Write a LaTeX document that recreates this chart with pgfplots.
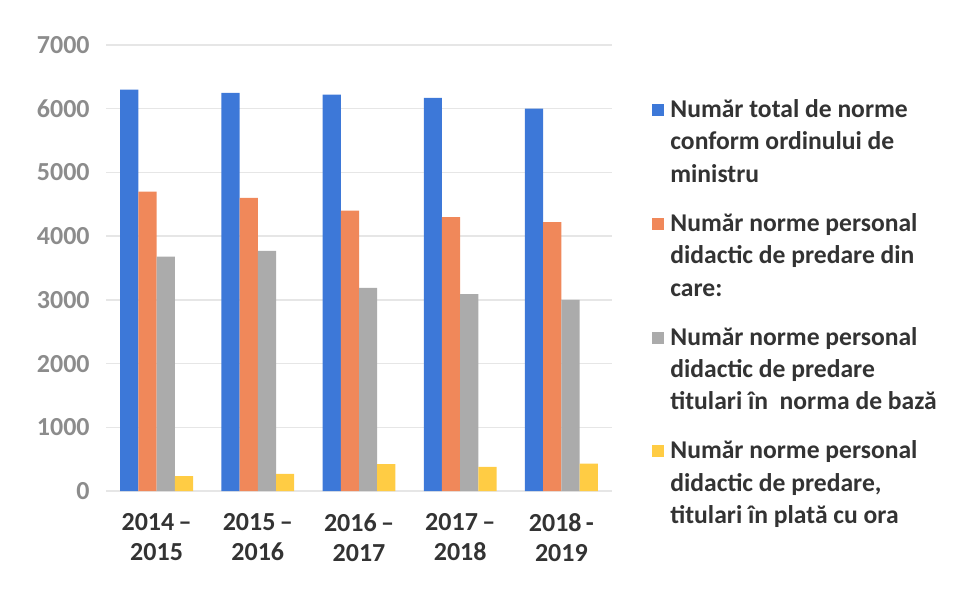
\documentclass[border=0pt]{standalone}
\usepackage{pgfplots}
\pgfplotsset{compat=1.18}
\usepackage{fontspec}
\setmainfont{Carlito}
\definecolor{cblue}{HTML}{3D78D8}
\definecolor{corange}{HTML}{F0885A}
\definecolor{cgray}{HTML}{ABABAB}
\definecolor{cyellow}{HTML}{FFCC44}
\definecolor{gridgray}{HTML}{E6E6E6}
\definecolor{ticktxt}{HTML}{8C8C8C}
\definecolor{txtdark}{HTML}{333333}
\begin{document}
\begin{tikzpicture}
\path[use as bounding box] (0,0) rectangle (478pt,294.5pt);
\begin{axis}[
  at={(53pt,49pt)}, anchor=south west,
  scale only axis, width=253pt, height=223pt,
  ybar=0pt, bar width=0.18,
  xmin=-0.5, xmax=4.5, ymin=0, ymax=7000,
  xtick={0,1,2,3,4},
  xticklabels={{2014\,–\\2015},{2015\,–\\2016},{2016\,–\\2017},{2017\,–\\2018},{2018\,-\\2019}},
  ytick={0,1000,2000,3000,4000,5000,6000,7000},
  major tick length=0pt,
  axis line style={draw=none},
  ymajorgrids, grid style={color=gridgray, line width=0.7pt},
  /pgf/number format/assume math mode=true,
  /pgf/number format/set thousands separator={},
  yticklabel style={font=\fontsize{13}{15}\selectfont\bfseries, text=ticktxt, anchor=east, inner sep=0pt, xshift=-8pt},
  xticklabel style={font=\fontsize{13}{15}\selectfont\bfseries, text=txtdark, align=center, anchor=north, inner sep=0pt, yshift=-11pt},
  legend cell align=left,
  legend image code/.code={\draw[#1,draw=none] (0pt,13.2pt) rectangle (6pt,19.2pt);},
  legend style={at={(1.079,0.883)}, anchor=north west, draw=none, fill=none,
    font=\fontsize{12.8}{16.2}\selectfont\bfseries, text=txtdark,
    row sep=12pt, inner sep=0pt, align=left, nodes={inner sep=1pt}, column sep=2pt},
]
\addplot[fill=cblue, draw=none] coordinates {(0,6300) (1,6250) (2,6220) (3,6170) (4,6000)};
\addlegendentry{Număr total de norme\\conform ordinului de\\ministru}
\addplot[fill=corange, draw=none] coordinates {(0,4700) (1,4600) (2,4400) (3,4300) (4,4220)};
\addlegendentry{Număr norme personal\\didactic de predare din\\care:}
\addplot[fill=cgray, draw=none] coordinates {(0,3680) (1,3770) (2,3190) (3,3090) (4,3000)};
\addlegendentry{Număr norme personal\\didactic de predare\\titulari în\ \ norma de bază}
\addplot[fill=cyellow, draw=none] coordinates {(0,235) (1,270) (2,420) (3,380) (4,430)};
\addlegendentry{Număr norme personal\\didactic de predare,\\titulari în plată cu ora}
\end{axis}
\end{tikzpicture}
\end{document}
